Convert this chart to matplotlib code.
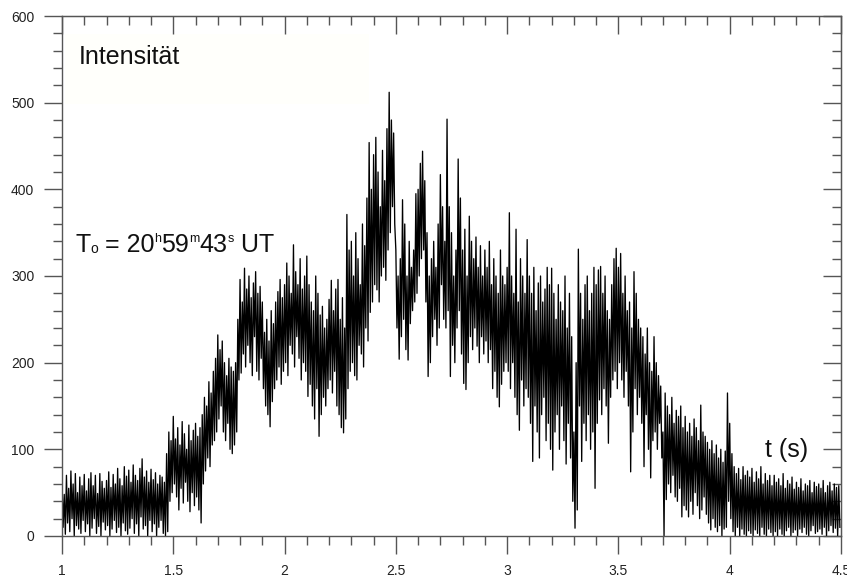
import numpy as np
import matplotlib
matplotlib.use('Agg')
import matplotlib.pyplot as plt
from matplotlib.ticker import MultipleLocator, FixedLocator
from matplotlib.patches import Rectangle
from matplotlib.transforms import IdentityTransform


plt.rcParams['font.family'] = ['Liberation Sans', 'DejaVu Sans']

# signal: upper and lower swing every 0.01 s from t = 1.00 s
t_start = 1.0
t_step = 0.01

hi = [
    62, 48, 70, 55, 75, 60, 72, 50, 68, 58,
    71, 52, 66, 73, 58, 70, 49, 72, 63, 55,
    64, 74, 56, 71, 60, 78, 66, 58, 80, 69,
    76, 62, 82, 70, 64, 78, 89, 68, 75, 62,
    77, 65, 73, 60, 70, 68, 62, 95, 120, 110,
    138, 112, 125, 105, 132, 118, 100, 128, 110, 122,
    130, 115, 125, 140, 160, 150, 178, 165, 190, 205,
    232, 215, 225, 200, 185, 205, 195, 190, 200, 250,
    296, 270, 309, 285, 300, 275, 292, 305, 280, 288,
    270, 235, 250, 225, 260, 245, 270, 282, 296, 275,
    290, 315, 300, 280, 336, 305, 290, 320, 285, 300,
    323, 290, 270, 260, 300, 280, 255, 265, 240, 250,
    273, 295, 260, 285, 296, 250, 275, 240, 371, 330,
    340, 300, 350, 320, 290, 360, 335, 390, 454, 400,
    440, 460, 420, 380, 445, 410, 470, 512, 480, 465,
    330, 300, 320, 388, 360, 300, 340, 310, 330, 395,
    400, 430, 444, 410, 350, 300, 320, 340, 310, 360,
    417, 380, 340, 481, 380, 350, 300, 330, 435, 390,
    330, 354, 300, 369, 340, 320, 345, 310, 335, 300,
    330, 310, 340, 290, 320, 300, 280, 330, 300, 290,
    310, 373, 300, 280, 354, 270, 320, 300, 280, 342,
    300, 280, 310, 260, 292, 300, 270, 285, 310, 290,
    309, 280, 250, 290, 270, 260, 300, 240, 280, 230,
    120, 200, 331, 280, 250, 290, 300, 260, 280, 310,
    290, 307, 311, 280, 300, 260, 250, 290, 320, 332,
    310, 326, 280, 300, 260, 270, 240, 305, 280, 250,
    240, 230, 210, 240, 200, 190, 230, 200, 185, 173,
    120, 165, 150, 140, 160, 130, 145, 138, 150, 125,
    138, 120, 130, 115, 135, 125, 110, 151, 120, 115,
    108, 100, 110, 95, 105, 90, 100, 85, 98, 165,
    130, 95, 80, 72, 78, 65, 80, 70, 75, 68,
    78, 62, 74, 66, 80, 60, 72, 64, 70, 58,
    70, 62, 66, 58, 72, 55, 64, 60, 68, 54,
    62, 56, 66, 52, 60, 58, 64, 50, 62, 57,
    60, 55, 64, 50, 58, 62, 52, 60, 56, 58,
]

lo = [
    10, 2, 15, 5, 20, 0, 12, 8, 3, 18,
    5, 14, 0, 9, 20, 3, 11, 0, 16, 7,
    12, 0, 8, 18, 4, 10, 0, 15, 6, 2,
    9, 20, 3, 14, 0, 22, 8, 12, 0, 18,
    5, 14, 0, 10, 18, 3, 0, 5, 40, 50,
    60, 45, 30, 55, 38, 62, 40, 28, 50, 35,
    45, 30, 15, 60, 75, 90, 80, 105, 110, 120,
    135, 150, 120, 110, 130, 100, 95, 105, 120, 180,
    188, 210, 195, 220, 200, 185, 230, 190, 180, 205,
    170, 150, 140, 126, 155, 170, 180, 195, 175, 190,
    200, 185, 220, 210, 195, 230, 205, 180, 200, 190,
    161, 175, 150, 135, 170, 115, 140, 160, 150, 170,
    180, 165, 190, 150, 140, 125, 119, 135, 170, 190,
    200, 185, 180, 220, 210, 195, 240, 225, 258, 270,
    290, 284, 270, 300, 310, 295, 330, 350, 380, 360,
    240, 204, 230, 250, 215, 203, 245, 260, 270, 280,
    300, 320, 330, 270, 184, 200, 230, 250, 220, 240,
    290, 250, 240, 260, 184, 220, 200, 240, 260, 210,
    176, 169, 200, 230, 215, 240, 219, 200, 230, 210,
    225, 200, 215, 170, 190, 160, 149, 175, 190, 200,
    190, 170, 200, 160, 140, 122, 180, 150, 170, 160,
    130, 86, 150, 120, 90, 140, 160, 110, 130, 100,
    76, 120, 140, 100, 150, 110, 83, 130, 90, 40,
    9, 30, 150, 86, 130, 110, 140, 100, 120, 55,
    130, 157, 140, 170, 150, 107, 160, 180, 190, 170,
    200, 180, 160, 190, 150, 74, 120, 170, 140, 160,
    130, 80, 140, 100, 67, 110, 120, 100, 130, 90,
    0, 42, 60, 50, 70, 45, 40, 55, 22, 35,
    30, 22, 40, 25, 50, 35, 20, 30, 45, 25,
    15, 7, 20, 10, 5, 12, 0, 8, 10, 40,
    20, 5, 0, 10, 0, 8, 2, 0, 6, 3,
    0, 7, 3, 0, 10, 2, 0, 8, 4, 0,
    5, 0, 8, 2, 0, 6, 10, 0, 4, 7,
    0, 8, 4, 10, 2, 0, 6, 12, 3, 5,
    8, 2, 10, 0, 6, 12, 4, 9, 0, 10,
]

x_major = [1, 1.5, 2, 2.5, 3, 3.5, 4, 4.5]
x_labels = ['1', '1.5', '2', '2.5', '3', '3.5', '4', '4.5']
y_major = [0, 100, 200, 300, 400, 500, 600]

# T0 label pieces: text, font size, raise in pixels
t0_pieces = [('T', 18, 0), ('o', 10, -1), (' = 20', 18, 0), ('h', 9, 10),
             ('59', 18, 0), ('m', 9, 10), ('43', 18, 0), ('s', 9, 10), (' UT', 18, 0)]

axis_grey = '#555555'
text_col = '#111111'

# interleave the upper and lower swings into one trace
t_hi = t_start + t_step * np.arange(len(hi))
t_lo = t_hi + t_step / 2
t = np.column_stack([t_hi, t_lo]).ravel()
y = np.column_stack([hi, lo]).ravel()

fig = plt.figure(figsize=(8.47, 5.78), dpi=100)
ax = fig.add_axes([0.0732, 0.0727, 0.9197, 0.8996])

ax.add_patch(Rectangle((0.004, 0.83), 0.39, 0.135, transform=ax.transAxes,
                       facecolor='#fffffb', edgecolor='none', zorder=0))

ax.plot(t, y, color='black', linewidth=0.95, zorder=2)

ax.set_xlim(1, 4.5)
ax.set_ylim(0, 600)

ax.xaxis.set_major_locator(FixedLocator(x_major))
ax.set_xticklabels(x_labels)
ax.xaxis.set_minor_locator(MultipleLocator(0.1))
ax.yaxis.set_major_locator(FixedLocator(y_major))
ax.yaxis.set_minor_locator(MultipleLocator(20))

ax.tick_params(which='major', direction='out', length=13, width=1.0,
               color=axis_grey, labelsize=10, labelcolor='#222222')
ax.tick_params(which='minor', direction='out', length=6.5, width=1.0, color=axis_grey)
ax.tick_params(axis='x', which='major', pad=7)
ax.tick_params(axis='y', which='major', pad=7)

for spine in ax.spines.values():
    spine.set_color(axis_grey)
    spine.set_linewidth(1.0)

# inward ticks on the top and right sides
top = ax.secondary_xaxis('top')
top.xaxis.set_major_locator(FixedLocator(x_major))
top.xaxis.set_minor_locator(MultipleLocator(0.1))
top.tick_params(which='major', direction='in', length=13, width=1.0,
                color=axis_grey, labeltop=False)
top.tick_params(which='minor', direction='in', length=6.5, width=1.0, color=axis_grey)
top.spines['top'].set_color(axis_grey)

right = ax.secondary_yaxis('right')
right.yaxis.set_major_locator(FixedLocator(y_major))
right.yaxis.set_minor_locator(MultipleLocator(20))
right.tick_params(which='major', direction='in', length=13, width=1.0,
                  color=axis_grey, labelright=False)
right.tick_params(which='minor', direction='in', length=6.5, width=1.0, color=axis_grey)
right.spines['right'].set_color(axis_grey)

ax.text(0.021, 0.907, 'Intensität', transform=ax.transAxes,
        fontsize=18, color=text_col, va='baseline', ha='left')
ax.text(0.903, 0.152, 't (s)', transform=ax.transAxes,
        fontsize=18, color=text_col, va='baseline', ha='left')

# T0 label built piece by piece so the raised letters stay small
renderer = fig.canvas.get_renderer()
x_px, base_px = 75, 578 - 252
for s, size, dy in t0_pieces:
    piece = fig.text(x_px, base_px + dy, s, fontsize=size, color=text_col,
                     va='baseline', ha='left', transform=IdentityTransform())
    x_px += piece.get_window_extent(renderer).width

fig.savefig('out.png', dpi=100)
